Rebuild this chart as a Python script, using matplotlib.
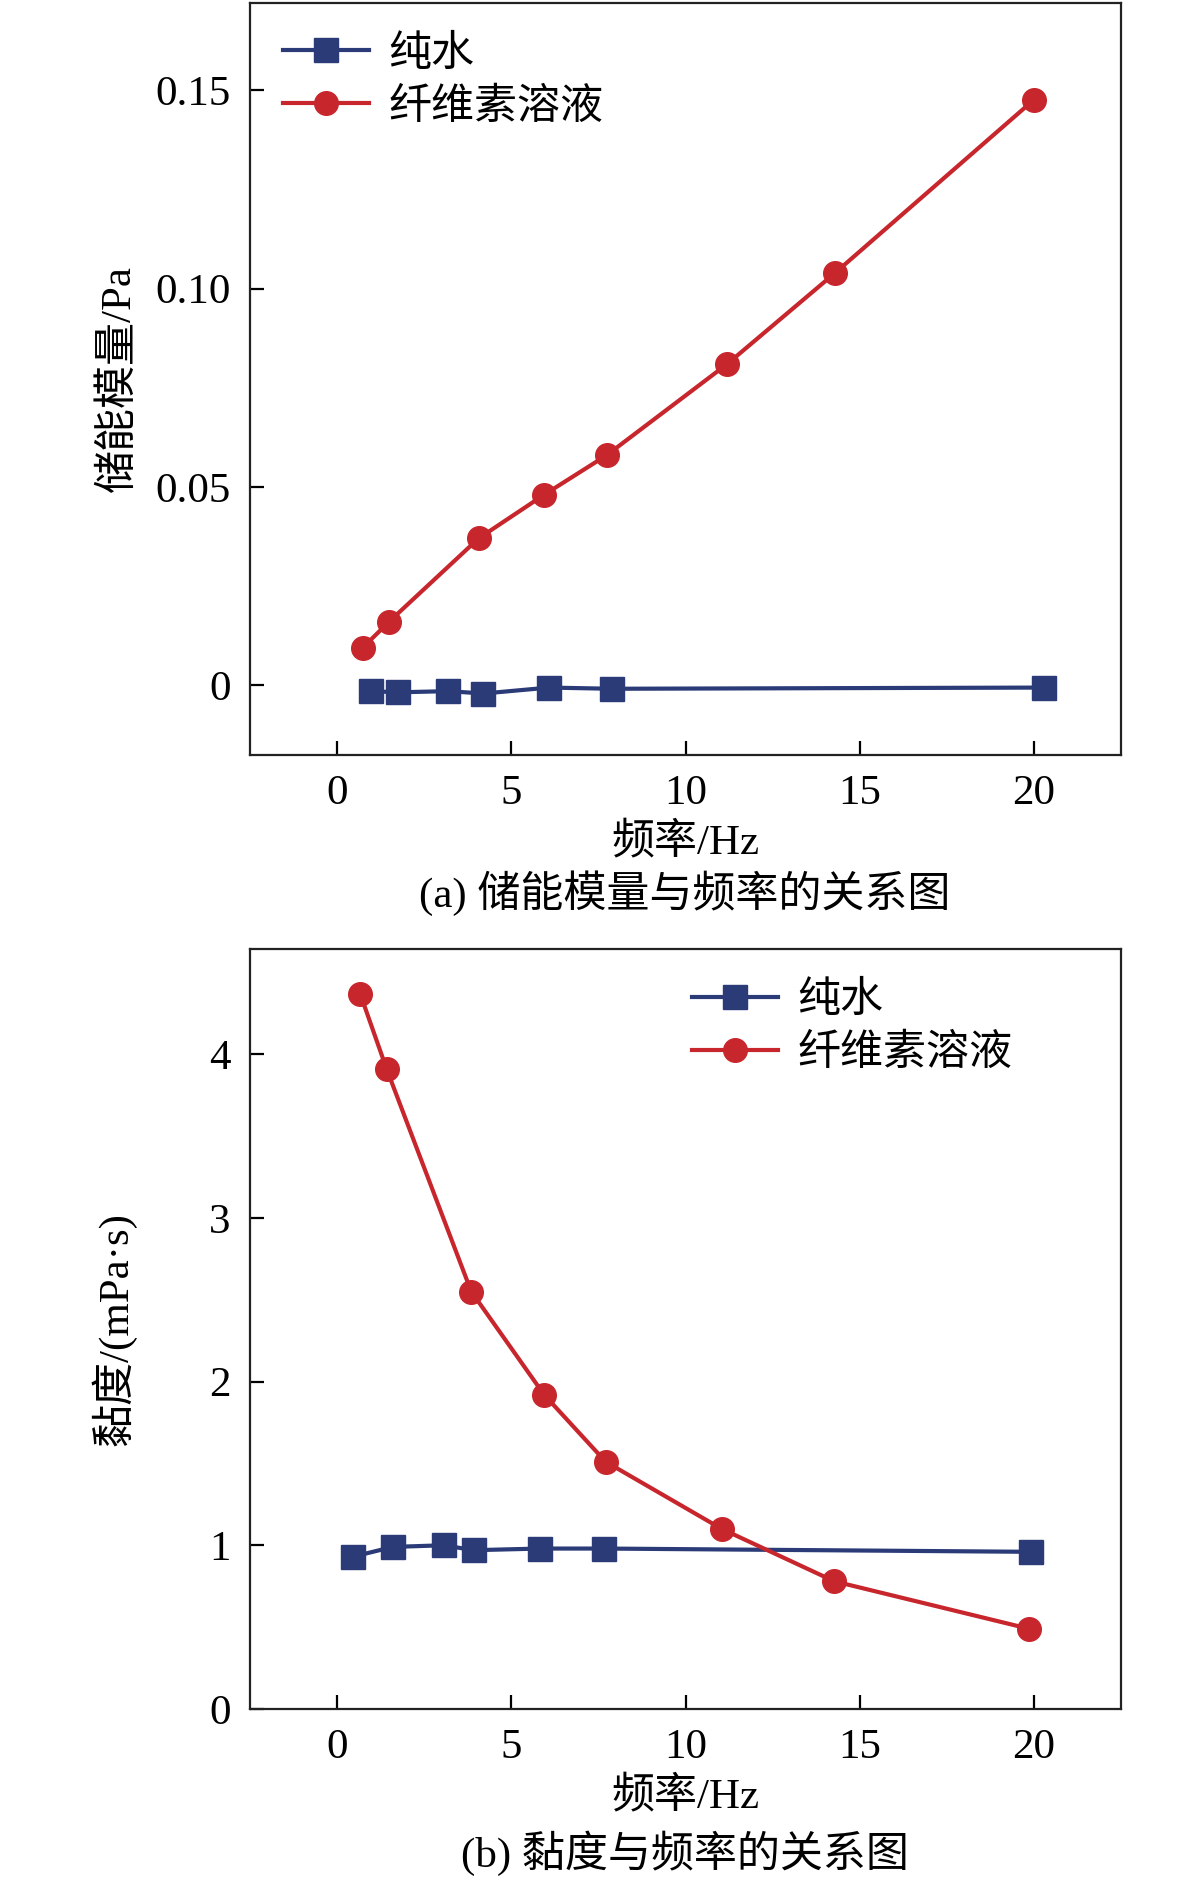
import matplotlib.pyplot as plt

plt.rcParams['font.family'] = ['Liberation Serif', 'Noto Sans CJK SC']
plt.rcParams['axes.unicode_minus'] = False

# (a) storage modulus vs frequency
freq_water_a = [0.97, 1.74, 3.19, 4.2, 6.08, 7.88, 20.28]
mod_water = [-0.0015, -0.0018, -0.0015, -0.0021, -0.0006, -0.0009, -0.0006]
freq_cell_a = [0.73, 1.49, 4.06, 5.94, 7.74, 11.2, 14.3, 20.0]
mod_cell = [0.0094, 0.016, 0.037, 0.048, 0.058, 0.081, 0.104, 0.1476]

# (b) viscosity vs frequency
freq_water_b = [0.45, 1.6, 3.06, 3.92, 5.83, 7.67, 19.93]
visc_water = [0.93, 0.99, 1.00, 0.97, 0.98, 0.98, 0.96]
freq_cell_b = [0.66, 1.42, 3.85, 5.94, 7.71, 11.04, 14.27, 19.86]
visc_cell = [4.37, 3.91, 2.55, 1.92, 1.51, 1.10, 0.78, 0.49]

labels = ['纯水', '纤维素溶液']
blue = '#2b3b78'
red = '#c8262d'

W, H = 1181, 1885
fig = plt.figure(figsize=(W / 100, H / 100), dpi=100)

ax1 = fig.add_axes([250 / W, 1 - 755 / H, 871 / W, 752 / H])
ax2 = fig.add_axes([250 / W, 1 - 1709 / H, 871 / W, 760 / H])

fs = 31
lfs = 31

def style(ax):
    for s in ax.spines.values():
        s.set_linewidth(1.6)
        s.set_color('#222222')
    ax.tick_params(direction='in', length=10, width=1.6, labelsize=fs, pad=14,
                   top=False, right=False)
    ax.set_xlim(-2.5, 22.5)
    ax.set_xticks([0, 5, 10, 15, 20])

for ax, xw, yw, xc, yc in [(ax1, freq_water_a, mod_water, freq_cell_a, mod_cell),
                           (ax2, freq_water_b, visc_water, freq_cell_b, visc_cell)]:
    ax.plot(xw, yw, '-s', color=blue, lw=3, ms=17, label=labels[0])
    ax.plot(xc, yc, '-o', color=red, lw=3, ms=17, label=labels[1])
    style(ax)

ax1.set_ylim(-0.0176, 0.172)
ax1.set_yticks([0, 0.05, 0.10, 0.15])
ax1.set_yticklabels(['0', '0.05', '0.10', '0.15'])
ax1.set_ylabel('储能模量/Pa', fontsize=fs, labelpad=12)
ax1.set_xlabel('频率/Hz', fontsize=fs, labelpad=7)
ax1.legend(loc='upper left', bbox_to_anchor=(0.038, 0.957), frameon=False,
           fontsize=lfs, handlelength=2.0, handletextpad=0.45, labelspacing=0.32,
           borderpad=0, borderaxespad=0)

ax2.set_ylim(0, 4.642)
ax2.set_yticks([0, 1, 2, 3, 4])
ax2.set_ylabel('黏度/(mPa·s)', fontsize=fs, labelpad=52)
ax2.set_xlabel('频率/Hz', fontsize=fs, labelpad=7)
ax2.legend(loc='upper left', bbox_to_anchor=(0.507, 0.957), frameon=False,
           fontsize=lfs, handlelength=2.0, handletextpad=0.45, labelspacing=0.32,
           borderpad=0, borderaxespad=0)

fig.text(685 / W, 1 - 893 / H, '(a) 储能模量与频率的关系图', fontsize=fs,
         ha='center', va='center')
fig.text(685 / W, 1 - 1853 / H, '(b) 黏度与频率的关系图', fontsize=fs,
         ha='center', va='center')

fig.savefig('out.png', dpi=100)
